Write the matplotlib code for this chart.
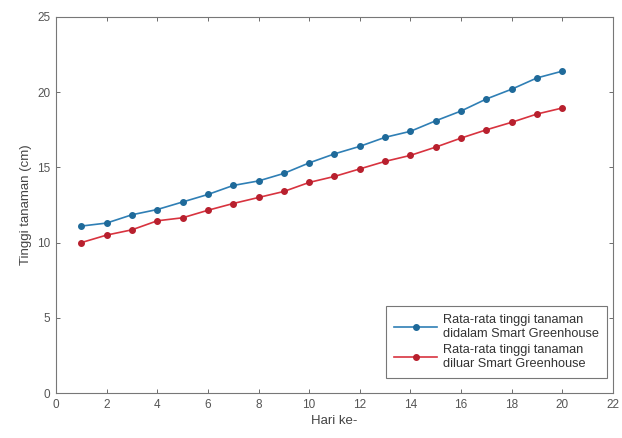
import matplotlib
matplotlib.use("Agg")
import matplotlib.pyplot as plt

days = list(range(1, 21))
inside = [11.1, 11.3, 11.85, 12.2, 12.7, 13.2, 13.8, 14.1, 14.6, 15.3,
          15.9, 16.4, 17.0, 17.4, 18.1, 18.75, 19.55, 20.2, 20.95, 21.4]
outside = [10.0, 10.5, 10.85, 11.45, 11.65, 12.15, 12.6, 13.0, 13.4, 14.0,
           14.4, 14.9, 15.4, 15.8, 16.35, 16.95, 17.5, 18.0, 18.55, 18.95]
labels = ["Rata-rata tinggi tanaman\ndidalam Smart Greenhouse",
          "Rata-rata tinggi tanaman\ndiluar Smart Greenhouse"]
xticks = list(range(0, 23, 2))
yticks = list(range(0, 26, 5))

plt.rcParams['font.family'] = ['Liberation Sans', 'DejaVu Sans']

fig = plt.figure(figsize=(6.22, 4.38), dpi=100)
ax = fig.add_axes([0.09, 0.1027, 0.8955, 0.8585])

ax.plot(days, inside, color='#2f7fb5', marker='o', markersize=4,
        markerfacecolor='#1f6a9a', markeredgecolor='#1f6a9a', linewidth=1.2, label=labels[0])
ax.plot(days, outside, color='#d8333f', marker='o', markersize=4,
        markerfacecolor='#b8202e', markeredgecolor='#b8202e', linewidth=1.2, label=labels[1])

ax.set_xlim(0, 22)
ax.set_ylim(0, 25)
ax.set_xticks(xticks)
ax.set_yticks(yticks)
ax.tick_params(direction='in', top=True, right=True, length=3, width=0.6,
               colors='#555555', labelsize=8.5, pad=4)
for s in ax.spines.values():
    s.set_color('#777777')
    s.set_linewidth(0.8)

ax.set_xlabel('Hari ke-', fontsize=9.5, color='#444444', labelpad=3)
ax.set_ylabel('Tinggi tanaman (cm)', fontsize=9.5, color='#444444', labelpad=4)

leg = ax.legend(loc='lower right', bbox_to_anchor=(0.989, 0.04), borderaxespad=0,
                fontsize=9.2, frameon=True, fancybox=False,
                edgecolor='#555555', handlelength=3.4, handletextpad=0.45,
                labelspacing=0.25, borderpad=0.6)
leg.get_frame().set_linewidth(0.8)
for t in leg.get_texts():
    t.set_color('#333333')
    t.set_linespacing(1.3)

fig.savefig('out.png', dpi=100)
